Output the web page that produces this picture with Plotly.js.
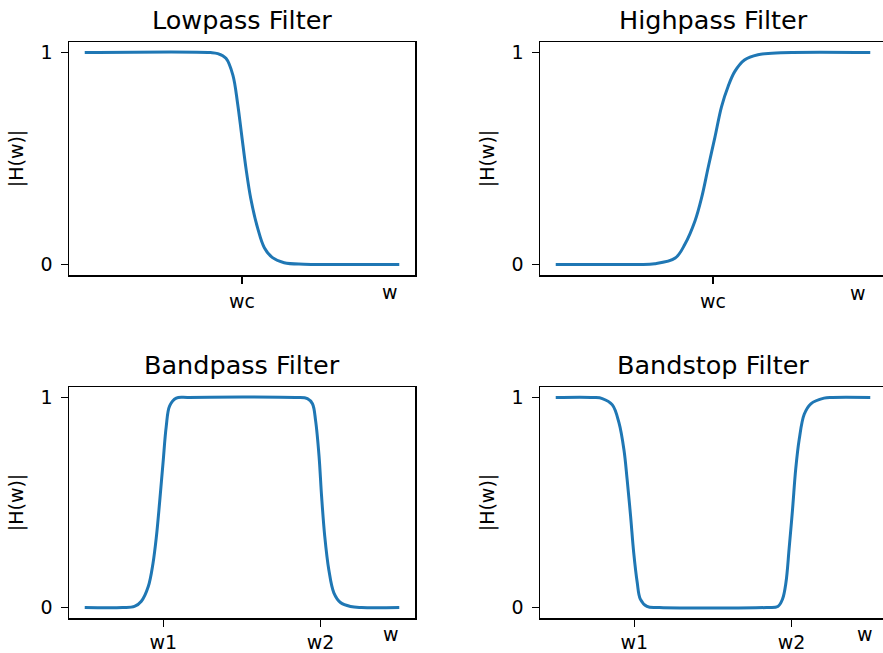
<!DOCTYPE html>
<html>
<head>
<meta charset="utf-8">
<script src="https://cdn.plot.ly/plotly-3.0.1.min.js"></script>
<style>
html,body{margin:0;padding:0;overflow:hidden;background:#fff;}
#chart{width:890px;height:653px;}
</style>
</head>
<body>
<div id="chart"></div>
<script>
// ---- data ----
var titles = ["Lowpass Filter", "Highpass Filter", "Bandpass Filter", "Bandstop Filter"];
var yTickVals = [0, 1];
var yTickText = ["0", "1"];
var topTickVals = [0.5];
var topTickText = ["wc"];
var bottomTickVals = [0.25, 0.75];
var bottomTickText = ["w1", "w2"];
var yLabel = "|H(w)|";
var xLabel = "w";

var lowX = [0, 0.40, 0.423, 0.449, 0.471, 0.486, 0.499, 0.513, 0.528, 0.550, 0.571, 0.597, 0.634, 0.697, 0.80, 1];
var lowY = [1, 1, 0.995, 0.973, 0.894, 0.76, 0.61, 0.45, 0.31, 0.17, 0.079, 0.032, 0.008, 0.001, 0, 0];

var highX = [0, 0.25, 0.315, 0.38, 0.411, 0.443, 0.464, 0.485, 0.506, 0.527, 0.548, 0.569, 0.600, 0.643, 0.716, 1];
var highY = [0, 0, 0.003, 0.03, 0.096, 0.206, 0.316, 0.46, 0.60, 0.744, 0.84, 0.91, 0.965, 0.99, 0.999, 1];

var bandpassX = [0, 0.12, 0.158, 0.180, 0.202, 0.217, 0.228, 0.238, 0.249, 0.259, 0.270, 0.291, 0.33, 0.67, 0.708, 0.724, 0.734, 0.745, 0.753, 0.763, 0.776, 0.792, 0.813, 0.845, 0.88, 1];
var bandpassY = [0, 0, 0.005, 0.03, 0.10, 0.21, 0.34, 0.50, 0.69, 0.86, 0.96, 0.997, 1, 1, 0.995, 0.97, 0.89, 0.72, 0.53, 0.34, 0.18, 0.07, 0.024, 0.005, 0, 0];

var bandstopX = [0, 0.12, 0.148, 0.180, 0.201, 0.217, 0.227, 0.238, 0.248, 0.259, 0.269, 0.290, 0.33, 0.67, 0.706, 0.721, 0.732, 0.742, 0.753, 0.763, 0.774, 0.790, 0.811, 0.853, 0.88, 1];
var bandstopY = [1, 1, 0.995, 0.965, 0.88, 0.75, 0.61, 0.435, 0.26, 0.12, 0.04, 0.005, 0, 0, 0.005, 0.04, 0.12, 0.28, 0.47, 0.66, 0.80, 0.92, 0.97, 0.997, 1, 1];

// ---- layout geometry (pixels) ----
var W = 890, H = 653;
var colPx = [[69, 415], [540, 886]];
var rowPx = [[42, 275], [387, 618]];
var FONT = "DejaVu Sans, sans-serif";
var LINE = "#1f77b4";

function xd(p) { return [p[0] / W, p[1] / W]; }
function yd(p) { return [1 - p[1] / H, 1 - p[0] / H]; }

var series = [[lowX, lowY], [highX, highY], [bandpassX, bandpassY], [bandstopX, bandstopY]];
var traces = [];
var layout = {
  width: W, height: H,
  margin: {l: 0, r: 0, t: 0, b: 0},
  paper_bgcolor: "#fff", plot_bgcolor: "#fff",
  showlegend: false,
  font: {family: FONT, color: "#000", size: 19},
  annotations: []
};

var wPos = [[389.5, 292], [858, 293], [391, 634], [865, 634]];

for (var i = 0; i < 4; i++) {
  var r = Math.floor(i / 2), c = i % 2;
  var xn = i === 0 ? "x" : "x" + (i + 1);
  var yn = i === 0 ? "y" : "y" + (i + 1);
  traces.push({
    x: series[i][0], y: series[i][1], xaxis: xn, yaxis: yn,
    type: "scatter", mode: "lines",
    line: {color: LINE, width: 3, shape: "spline", smoothing: 1},
    hoverinfo: "skip"
  });
  var isTopRow = (r === 0);
  layout["xaxis" + (i === 0 ? "" : i + 1)] = {
    domain: xd(colPx[c]), anchor: yn, range: [-0.05, 1.05],
    showgrid: false, zeroline: false,
    showline: true, mirror: true, linecolor: "#000", linewidth: 1.5,
    ticks: "outside", ticklen: 7, tickwidth: 1.5, tickcolor: "#000",
    tickmode: "array",
    tickvals: isTopRow ? topTickVals : bottomTickVals,
    ticktext: isTopRow ? topTickText : bottomTickText,
    tickfont: {family: FONT, size: 19, color: "#000"},
    ticklabelstandoff: isTopRow ? 2 : 0,
    fixedrange: true
  };
  layout["yaxis" + (i === 0 ? "" : i + 1)] = {
    domain: yd(rowPx[r]), anchor: xn, range: [-0.05, 1.05],
    showgrid: false, zeroline: false,
    showline: true, mirror: true, linecolor: "#000", linewidth: 1.5,
    ticks: "outside", ticklen: 7, tickwidth: 1.5, tickcolor: "#000",
    tickmode: "array", tickvals: yTickVals, ticktext: yTickText,
    tickfont: {family: FONT, size: 19, color: "#000"},
    ticklabelstandoff: 4,
    title: {text: yLabel, font: {family: FONT, size: 19, color: "#000"}, standoff: 12},
    fixedrange: true
  };
  // subplot title
  layout.annotations.push({
    text: titles[i], xref: "paper", yref: "paper",
    x: (colPx[c][0] + colPx[c][1]) / 2 / W,
    y: 1 - (rowPx[r][0] - 22) / H,
    xanchor: "center", yanchor: "middle", showarrow: false,
    font: {family: FONT, size: 25.5, color: "#000"}
  });
  // "w" label at right under axis
  layout.annotations.push({
    text: xLabel, xref: "paper", yref: "paper",
    x: wPos[i][0] / W, y: 1 - wPos[i][1] / H,
    xanchor: "center", yanchor: "middle", showarrow: false,
    font: {family: FONT, size: 19, color: "#000"}
  });
}

Plotly.newPlot("chart", traces, layout, {displayModeBar: false, staticPlot: true});
</script>
</body>
</html>
